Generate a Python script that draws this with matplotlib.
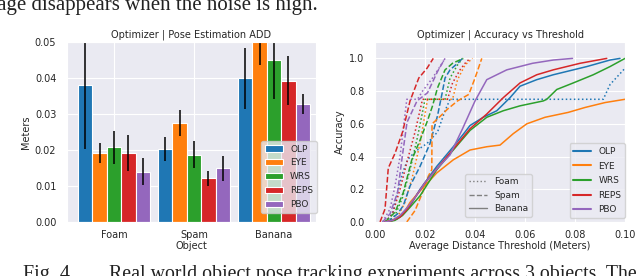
import matplotlib
matplotlib.use("Agg")
import matplotlib.pyplot as plt
import numpy as np
import seaborn as sns
from matplotlib.lines import Line2D

# ---- bar chart data (Pose Estimation ADD, meters) ----
objects = ["Foam", "Spam", "Banana"]
optimizers = ["OLP", "EYE", "WRS", "REPS", "PBO"]
colors = ["#1f77b4", "#ff7f0e", "#2ca02c", "#d62728", "#9467bd"]

add_mean = {
    "OLP":  [0.0380, 0.0203, 0.0399],
    "EYE":  [0.0191, 0.0274, 0.0520],
    "WRS":  [0.0207, 0.0187, 0.0449],
    "REPS": [0.0192, 0.0121, 0.0393],
    "PBO":  [0.0140, 0.0149, 0.0327],
}
add_err = {
    "OLP":  [0.0178, 0.0034, 0.0085],
    "EYE":  [0.0028, 0.0036, 0.0084],
    "WRS":  [0.0046, 0.0038, 0.0108],
    "REPS": [0.0050, 0.0021, 0.0067],
    "PBO":  [0.0037, 0.0035, 0.0028],
}

# ---- accuracy vs threshold curves (x in meters, y accuracy) ----
banana_x = {
    "OLP":  [0.004, 0.007, 0.009, 0.0113, 0.014, 0.018, 0.0247, 0.0313, 0.036, 0.038, 0.0433, 0.0487, 0.054, 0.058, 0.0647, 0.0713, 0.0847, 0.094, 0.098],
    "EYE":  [0.004, 0.007, 0.0113, 0.014, 0.018, 0.0247, 0.0313, 0.038, 0.0447, 0.050, 0.0553, 0.0607, 0.068, 0.0773, 0.084, 0.092, 0.100],
    "WRS":  [0.005, 0.008, 0.011, 0.014, 0.018, 0.0247, 0.0313, 0.038, 0.0447, 0.0513, 0.058, 0.0673, 0.0687, 0.0727, 0.0793, 0.0873, 0.094, 0.100],
    "REPS": [0.004, 0.007, 0.010, 0.013, 0.016, 0.020, 0.025, 0.031, 0.038, 0.0447, 0.0513, 0.058, 0.0647, 0.0713, 0.082, 0.0927],
    "PBO":  [0.004, 0.007, 0.010, 0.013, 0.016, 0.020, 0.025, 0.030, 0.035, 0.040, 0.0447, 0.0527, 0.063, 0.0713, 0.079],
}
banana_y = {
    "OLP":  [0.0, 0.01, 0.02, 0.05, 0.10, 0.20, 0.34, 0.46, 0.55, 0.59, 0.64, 0.68, 0.76, 0.83, 0.87, 0.90, 0.95, 0.99, 1.0],
    "EYE":  [0.0, 0.01, 0.05, 0.12, 0.19, 0.30, 0.38, 0.44, 0.46, 0.47, 0.54, 0.60, 0.64, 0.67, 0.70, 0.73, 0.75],
    "WRS":  [0.0, 0.01, 0.04, 0.09, 0.16, 0.32, 0.44, 0.56, 0.64, 0.68, 0.71, 0.74, 0.75, 0.81, 0.85, 0.90, 0.95, 1.0],
    "REPS": [0.0, 0.01, 0.03, 0.08, 0.15, 0.24, 0.33, 0.44, 0.57, 0.66, 0.76, 0.85, 0.90, 0.93, 0.97, 1.0],
    "PBO":  [0.0, 0.01, 0.04, 0.09, 0.15, 0.24, 0.33, 0.41, 0.57, 0.74, 0.87, 0.93, 0.97, 0.99, 1.0],
}
spam_x = {
    "OLP":  [0.005, 0.009, 0.0113, 0.014, 0.018, 0.022, 0.025, 0.027, 0.028, 0.030, 0.033, 0.035],
    "EYE":  [0.0127, 0.016, 0.019, 0.0213, 0.0227, 0.0228, 0.025, 0.029, 0.033, 0.0375, 0.040, 0.0427],
    "WRS":  [0.004, 0.008, 0.0113, 0.0147, 0.018, 0.021, 0.023, 0.025, 0.028, 0.031, 0.0353],
    "REPS": [0.002, 0.004, 0.0053, 0.008, 0.011, 0.014, 0.0175, 0.0208, 0.0233],
    "PBO":  [0.003, 0.006, 0.009, 0.0108, 0.0128, 0.0168, 0.021, 0.025, 0.028],
}
spam_y = {
    "OLP":  [0.0, 0.05, 0.10, 0.22, 0.34, 0.48, 0.65, 0.80, 0.88, 0.93, 0.97, 1.0],
    "EYE":  [0.0, 0.07, 0.18, 0.28, 0.32, 0.60, 0.63, 0.69, 0.74, 0.78, 0.88, 1.0],
    "WRS":  [0.0, 0.06, 0.18, 0.38, 0.50, 0.62, 0.71, 0.82, 0.93, 0.97, 1.0],
    "REPS": [0.0, 0.08, 0.33, 0.42, 0.55, 0.74, 0.88, 0.94, 1.0],
    "PBO":  [0.0, 0.05, 0.18, 0.39, 0.61, 0.74, 0.79, 0.92, 1.0],
}
foam_x = {
    "OLP":  [0.004, 0.007, 0.009, 0.011, 0.013, 0.016, 0.0208, 0.025, 0.028, 0.030, 0.0913, 0.094, 0.100],
    "EYE":  [0.006, 0.009, 0.012, 0.015, 0.018, 0.021, 0.031, 0.033, 0.036, 0.039],
    "WRS":  [0.005, 0.008, 0.011, 0.014, 0.017, 0.020, 0.028, 0.030, 0.033, 0.035],
    "REPS": [0.004, 0.007, 0.010, 0.013, 0.016, 0.019, 0.029, 0.031, 0.034, 0.036, 0.038],
    "PBO":  [0.003, 0.006, 0.008, 0.010, 0.0127, 0.017, 0.019, 0.023, 0.026, 0.028],
}
foam_y = {
    "OLP":  [0.0, 0.05, 0.18, 0.30, 0.38, 0.43, 0.48, 0.55, 0.68, 0.75, 0.75, 0.84, 0.94],
    "EYE":  [0.0, 0.03, 0.12, 0.28, 0.48, 0.75, 0.75, 0.87, 0.96, 1.0],
    "WRS":  [0.0, 0.04, 0.15, 0.32, 0.52, 0.75, 0.75, 0.88, 0.96, 1.0],
    "REPS": [0.0, 0.05, 0.20, 0.38, 0.55, 0.75, 0.75, 0.85, 0.93, 0.97, 1.0],
    "PBO":  [0.0, 0.08, 0.22, 0.40, 0.75, 0.75, 0.80, 0.88, 0.95, 1.0],
}

sns.set_style("darkgrid")
plt.rcParams["font.family"] = ["DejaVu Sans"]
plt.rcParams["font.size"] = 7

fig = plt.figure(figsize=(6.4, 2.76), dpi=100)

# ---------- left: bar chart ----------
ax1 = fig.add_axes([0.1042, 0.1957, 0.3895, 0.652])
x = np.arange(len(objects))
w = 0.18
for i, opt in enumerate(optimizers):
    ax1.bar(x + (i - 2) * w, add_mean[opt], w, yerr=add_err[opt], color=colors[i],
            edgecolor="white", linewidth=0.8, label=opt,
            error_kw=dict(ecolor="black", elinewidth=1.1, capsize=0))
ax1.set_xlim(-0.591, 2.525)
ax1.set_ylim(0, 0.05)
ax1.set_yticks([0.0, 0.01, 0.02, 0.03, 0.04, 0.05])
ax1.set_yticklabels(["0.00", "0.01", "0.02", "0.03", "0.04", "0.05"])
ax1.set_xticks(x)
ax1.set_xticklabels(objects)
ax1.tick_params(axis="y", labelsize=7, pad=4)
ax1.tick_params(axis="x", labelsize=7, pad=2)
ax1.set_ylabel("Meters", fontsize=7, labelpad=3)
ax1.set_xlabel("Object", fontsize=7, labelpad=1)
ax1.set_title("Optimizer | Pose Estimation ADD", fontsize=7, pad=3)
ax1.legend(loc="lower right", bbox_to_anchor=(1.003, 0.05), borderaxespad=0,
           fontsize=6.5, labelspacing=0.55, handlelength=2.0)

# ---------- right: accuracy vs threshold ----------
ax2 = fig.add_axes([0.586, 0.1957, 0.3906, 0.652])
for xs, ys, ls in [(foam_x, foam_y, ":"), (spam_x, spam_y, "--"), (banana_x, banana_y, "-")]:
    for i, opt in enumerate(optimizers):
        ax2.plot(xs[opt], ys[opt], color=colors[i], linestyle=ls, linewidth=1.1)
ax2.set_xlim(0, 0.10)
ax2.set_ylim(0, 1.1)
ax2.set_xticks([0.0, 0.02, 0.04, 0.06, 0.08, 0.10])
ax2.set_xticklabels(["0.00", "0.02", "0.04", "0.06", "0.08", "0.10"])
ax2.set_yticks([0.0, 0.2, 0.4, 0.6, 0.8, 1.0])
ax2.tick_params(axis="y", labelsize=7, pad=4)
ax2.tick_params(axis="x", labelsize=7, pad=2)
ax2.set_ylabel("Accuracy", fontsize=7, labelpad=3)
ax2.set_xlabel("Average Distance Threshold (Meters)", fontsize=7, labelpad=1)
ax2.set_title("Optimizer | Accuracy vs Threshold", fontsize=7, pad=3)

color_handles = [Line2D([], [], color=colors[i], lw=1.5) for i in range(len(optimizers))]
leg_c = ax2.legend(color_handles, optimizers, loc="lower right", bbox_to_anchor=(1.0, 0.022),
                   borderaxespad=0, fontsize=6.5, labelspacing=0.62)
ax2.add_artist(leg_c)
style_names = ["Foam", "Spam", "Banana"]
style_ls = [":", "--", "-"]
style_handles = [Line2D([], [], color="gray", lw=1.0, linestyle=s) for s in style_ls]
ax2.legend(style_handles, style_names, loc="lower left", bbox_to_anchor=(0.36, 0.028),
           borderaxespad=0, fontsize=6.5, labelspacing=0.5)

# ---------- surrounding caption text (cut by the figure edges) ----------
fig.text(318 / 640, 1 - 10 / 276, "advantage disappears when the noise is high.",
         ha="right", va="baseline", fontsize=15, family="Liberation Serif", color="#222222")
fig.text(23 / 640, 1 - 279 / 276, "Fig. 4.", ha="left", va="baseline",
         fontsize=14.5, family="Liberation Serif", color="#222222")
fig.text(637 / 640, 1 - 279 / 276, "Real world object pose tracking experiments across 3 objects. The",
         ha="right", va="baseline", fontsize=14.3, family="Liberation Serif", color="#222222")

fig.savefig("out.png", dpi=100)
